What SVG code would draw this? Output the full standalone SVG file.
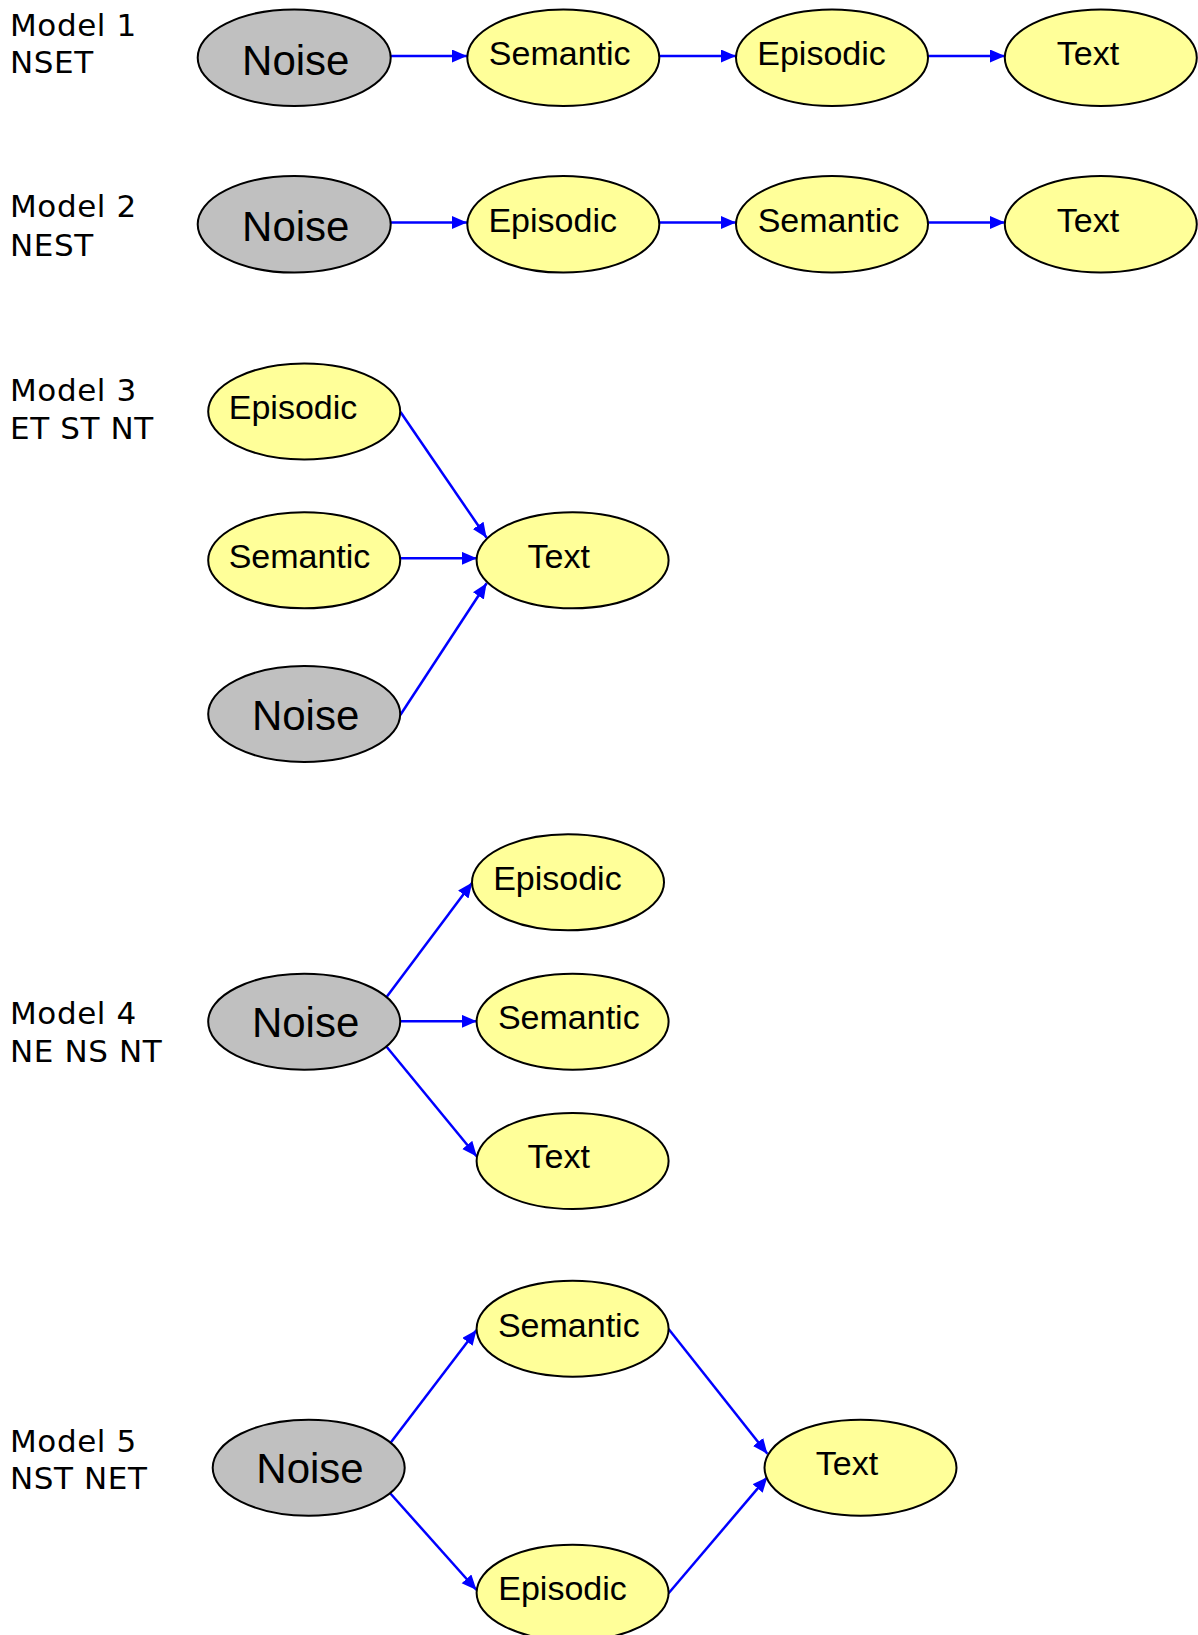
<svg xmlns="http://www.w3.org/2000/svg" width="1198" height="1635" viewBox="0 0 1198 1635">
<style>
.lbl{font-family:"DejaVu Sans",Verdana,sans-serif;font-size:31px;letter-spacing:0.6px;fill:#000}
.t{font-family:"Liberation Sans",Arial,sans-serif;font-size:34px;fill:#000;text-anchor:middle}
.tn{font-family:"Liberation Sans",Arial,sans-serif;font-size:42px;fill:#000;text-anchor:middle}
.y{fill:#FFFF99;stroke:#000;stroke-width:2}
.g{fill:#C0C0C0;stroke:#000;stroke-width:2}
.c line{stroke:#0000FF;stroke-width:2.5;fill:none;marker-end:url(#ah)}
</style>
<defs>
<marker id="ah" markerUnits="userSpaceOnUse" markerWidth="16" markerHeight="14" refX="15" refY="6.5" orient="auto" viewBox="0 0 16 14">
<path d="M0,0 L15,6.5 L0,13 z" fill="#0000FF"/>
</marker>
</defs>
<rect width="1198" height="1635" fill="#fff"/>
<g id="labels">
<text class="lbl" x="10" y="35.7">Model 1</text>
<text class="lbl" x="10" y="73.3">NSET</text>
<text class="lbl" x="10" y="217">Model 2</text>
<text class="lbl" x="10" y="255.5">NEST</text>
<text class="lbl" x="10" y="400.7">Model 3</text>
<text class="lbl" x="10" y="439">ET ST NT</text>
<text class="lbl" x="10" y="1023.5">Model 4</text>
<text class="lbl" x="10" y="1061.5">NE NS NT</text>
<text class="lbl" x="10" y="1451.7">Model 5</text>
<text class="lbl" x="10" y="1489">NST NET</text>
</g>
<g class="c" id="connectors">
<line x1="391" y1="56" x2="467" y2="56"/>
<line x1="659" y1="56" x2="736" y2="56"/>
<line x1="928" y1="56" x2="1005" y2="56"/>
<line x1="391" y1="222.5" x2="467" y2="222.5"/>
<line x1="659" y1="222.5" x2="736" y2="222.5"/>
<line x1="928" y1="222.5" x2="1005" y2="222.5"/>
<line x1="400.5" y1="412" x2="486.6" y2="537.8"/>
<line x1="400.5" y1="558.3" x2="476.8" y2="558.3"/>
<line x1="400.3" y1="715" x2="486.6" y2="583.3"/>
<line x1="386.6" y1="997" x2="472.3" y2="882.5"/>
<line x1="400.4" y1="1021.3" x2="476.8" y2="1021.3"/>
<line x1="386.6" y1="1046.7" x2="476.8" y2="1156.5"/>
<line x1="390.4" y1="1443" x2="476.5" y2="1330"/>
<line x1="390.4" y1="1493.5" x2="476.5" y2="1590"/>
<line x1="668.6" y1="1329" x2="767.4" y2="1453.8"/>
<line x1="668.6" y1="1593.3" x2="767.4" y2="1477"/>
</g>
<g id="m1-noise"><ellipse class="g" cx="294.2" cy="57.7" rx="96.5" ry="48.3"/><text class="tn" x="295.8" y="74.5">Noise</text></g>
<g id="m1-semantic"><ellipse class="y" cx="563.3" cy="57.7" rx="96" ry="48.3"/><text class="t" x="559.7" y="65">Semantic</text></g>
<g id="m1-episodic"><ellipse class="y" cx="832" cy="57.7" rx="96" ry="48.3"/><text class="t" x="821.5" y="65">Episodic</text></g>
<g id="m1-text"><ellipse class="y" cx="1100.8" cy="57.7" rx="96" ry="48.3"/><text class="t" x="1088" y="65">Text</text></g>
<g id="m2-noise"><ellipse class="g" cx="294.2" cy="224.3" rx="96.5" ry="48.3"/><text class="tn" x="295.8" y="241">Noise</text></g>
<g id="m2-episodic"><ellipse class="y" cx="563.3" cy="224.3" rx="96" ry="48.3"/><text class="t" x="552.7" y="231.6">Episodic</text></g>
<g id="m2-semantic"><ellipse class="y" cx="832" cy="224.3" rx="96" ry="48.3"/><text class="t" x="828.5" y="231.6">Semantic</text></g>
<g id="m2-text"><ellipse class="y" cx="1100.8" cy="224.3" rx="96" ry="48.3"/><text class="t" x="1088" y="231.6">Text</text></g>
<g id="m3-episodic"><ellipse class="y" cx="304.2" cy="411.5" rx="96" ry="48"/><text class="t" x="293" y="419.3">Episodic</text></g>
<g id="m3-semantic"><ellipse class="y" cx="304.2" cy="560.3" rx="96" ry="48"/><text class="t" x="299.5" y="568.3">Semantic</text></g>
<g id="m3-noise"><ellipse class="g" cx="304.2" cy="714" rx="96" ry="48"/><text class="tn" x="305.6" y="729.5">Noise</text></g>
<g id="m3-text"><ellipse class="y" cx="572.6" cy="560.3" rx="96" ry="48"/><text class="t" x="558.7" y="568.3">Text</text></g>
<g id="m4-noise"><ellipse class="g" cx="304.2" cy="1021.7" rx="96" ry="48"/><text class="tn" x="305.6" y="1037.3">Noise</text></g>
<g id="m4-episodic"><ellipse class="y" cx="568" cy="882.3" rx="96" ry="48"/><text class="t" x="557.4" y="890">Episodic</text></g>
<g id="m4-semantic"><ellipse class="y" cx="572.6" cy="1021.7" rx="96" ry="48"/><text class="t" x="568.8" y="1029.3">Semantic</text></g>
<g id="m4-text"><ellipse class="y" cx="572.6" cy="1161" rx="96" ry="48"/><text class="t" x="558.7" y="1168.3">Text</text></g>
<g id="m5-noise"><ellipse class="g" cx="308.7" cy="1467.7" rx="96" ry="48"/><text class="tn" x="310" y="1482.7">Noise</text></g>
<g id="m5-semantic"><ellipse class="y" cx="572.6" cy="1328.7" rx="96" ry="48"/><text class="t" x="568.8" y="1336.7">Semantic</text></g>
<g id="m5-text"><ellipse class="y" cx="860.5" cy="1467.7" rx="96" ry="48"/><text class="t" x="847" y="1475">Text</text></g>
<g id="m5-episodic"><ellipse class="y" cx="572.6" cy="1592.7" rx="96" ry="48"/><text class="t" x="562.5" y="1600">Episodic</text></g>
</svg>
